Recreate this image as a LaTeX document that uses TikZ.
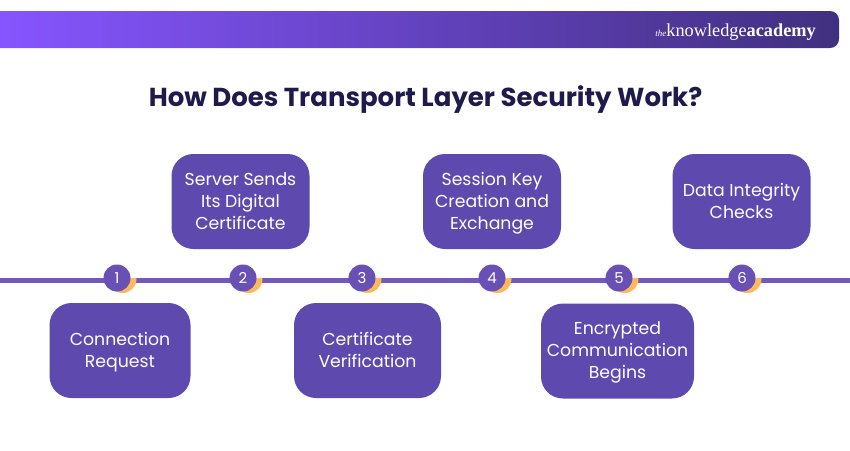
\documentclass[tikz,border=0pt]{standalone}
\usepackage{fontspec}
\setmainfont{Poppins}
\newfontfamily\logofont{Liberation Serif}
\definecolor{boxp}{HTML}{5E49AF}
\definecolor{linep}{HTML}{7359B9}
\definecolor{circp}{HTML}{6950B5}
\definecolor{orng}{HTML}{FDB95C}
\definecolor{titlec}{HTML}{1E1A4B}
\definecolor{barl}{HTML}{8655FF}
\definecolor{barr}{HTML}{41307F}
\tikzset{
 x=1pt,y=-1pt,
 stepbox/.style={fill=boxp,rounded corners=22pt,minimum height=95pt,inner sep=0pt},
 steptext/.style={text=white,font=\fontsize{17.3}{22}\selectfont,align=center,inner sep=0pt},
 numdot/.style={circle,fill=circp,minimum size=27pt,inner sep=0pt,text=white,font=\fontsize{15}{16}\selectfont},
}
\begin{document}
\begin{tikzpicture}
\useasboundingbox (0,0) rectangle (850,450);
% header bar
\begin{scope}
\clip[rounded corners=9pt] (-30,11) rectangle (839,48);
\shade[left color=barl,right color=barr] (0,11) rectangle (839,48);
\end{scope}
\node[anchor=base east,inner sep=0pt,text=white,font=\logofont] (logo) at (816,36) {{\fontsize{9}{10}\selectfont\itshape the}{\fontsize{18.3}{20}\selectfont knowledge\textbf{academy}}};
\node[text=titlec,font=\fontsize{26}{30}\selectfont\bfseries,inner sep=0pt] (title) at (425.5,100) {How Does Transport Layer Security Work?};
% timeline
\coordinate (ls) at (0,280.5);
\coordinate (le) at (850,280.5);
\draw[linep,line width=5pt] (ls) -- (le);
% orange crescents, only below the top of the line
\foreach \x in {117,243,362,492,619,742}{
  \begin{scope}
  \clip (\x-20,278) rectangle (\x+30,300);
  \fill[orng] (\x+5.5,279) circle[radius=14];
  \end{scope}
}
% number dots
\foreach \i/\x in {1/117,2/243,3/362,4/492,5/619,6/742}{
  \node[numdot] (n\i) at (\x,278) {\i};
}
% boxes
\node[stepbox,minimum width=141pt] (b1) at (120,350.5) {};
\node[stepbox,minimum width=138pt] (b2) at (240.5,201.5) {};
\node[stepbox,minimum width=147pt] (b3) at (367.5,350.5) {};
\node[stepbox,minimum width=138pt] (b4) at (492,201.5) {};
\node[stepbox,minimum width=153pt] (b5) at (617.5,351) {};
\node[stepbox,minimum width=138pt] (b6) at (741.5,201.5) {};
\node[steptext] (t1) at ([yshift=-1.5pt]b1.center) {Connection\\Request};
\node[steptext] (t2) at (b2.center) {Server Sends\\Its Digital\\Certificate};
\node[steptext] (t3) at ([yshift=1pt]b3.center) {Certificate\\Verification};
\node[steptext] (t4) at ([yshift=-2pt]b4.center) {Session Key\\Creation and\\Exchange};
\node[steptext] (t5) at ([yshift=-1pt]b5.center) {Encrypted\\Communication\\Begins};
\node[steptext] (t6) at ([yshift=1pt]b6.center) {Data Integrity\\Checks};
\end{tikzpicture}
\end{document}
